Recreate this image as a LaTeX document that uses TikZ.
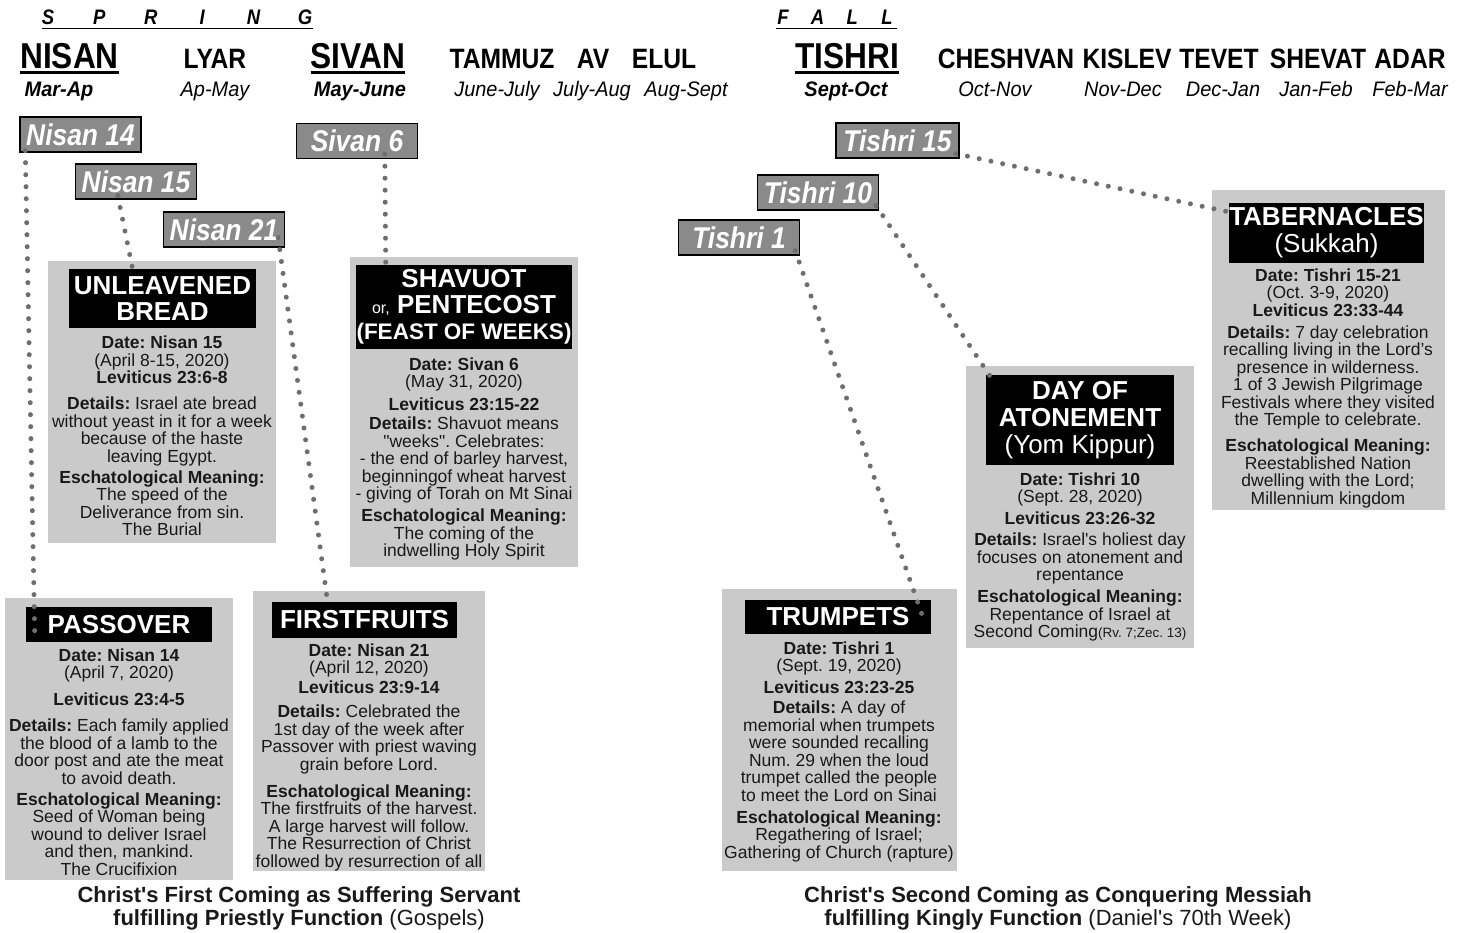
\documentclass[tikz,border=0pt]{standalone}
\usepackage{fontspec}
\setmainfont{Liberation Sans}
\newfontfamily\narrowf[FakeStretch=0.88]{Liberation Sans}
\newfontfamily\subf[FakeStretch=0.95]{Liberation Sans}
\usetikzlibrary{calc}
\definecolor{cardgray}{RGB}{202,202,202}
\definecolor{taggray}{RGB}{138,138,138}
\definecolor{dotgray}{RGB}{110,110,110}
\definecolor{inkc}{RGB}{25,25,25}
\newcommand{\sq}{\textquotesingle}
\frenchspacing
\begin{document}
\frenchspacing
\begin{tikzpicture}[x=1pt,y=-1pt,
 card/.style={fill=cardgray, draw=none, inner sep=0, anchor=north west},
 ttl/.style={fill=black, text=white, inner sep=0, align=center, font=\fontsize{26}{26}\selectfont\bfseries},
 body/.style={inner sep=0, align=center, anchor=north, text=inkc, font=\fontsize{17.5}{17.5}\selectfont},
 datetag/.style={fill=taggray, draw=black, line width=1.4pt, inner sep=0, minimum width=121pt, minimum height=35pt, text=white, font=\narrowf\fontsize{30}{30}\selectfont\bfseries\itshape},
 bigmonth/.style={inner sep=0, anchor=base, font=\narrowf\fontsize{36}{36}\selectfont\bfseries},
 month/.style={inner sep=0, anchor=base, font=\narrowf\fontsize{28}{28}\selectfont\bfseries},
 monthspan/.style={inner sep=0, anchor=base, font=\subf\fontsize{21}{21}\selectfont\itshape},
 season/.style={inner sep=0, anchor=base, font=\narrowf\fontsize{21}{21}\selectfont\bfseries\itshape},
 uline/.style={line width=2.4pt},
 dotline/.style={draw=dotgray, line width=5pt, line cap=round, dash pattern=on 0pt off 12pt},
 capt/.style={inner sep=0, anchor=north, align=center, text=inkc, font=\fontsize{22}{23}\selectfont}
]
\useasboundingbox (0,0) rectangle (1466,932);
\fill[white] (0,0) rectangle (1466,932);

% ---- seasons ----
\node[season] (spring) at (176.5,24.5) {\makebox[51.4pt]{S}\makebox[51.4pt]{P}\makebox[51.4pt]{R}\makebox[51.4pt]{I}\makebox[51.4pt]{N}\makebox[51.4pt]{G}};
\coordinate (sprA) at (42,28.5);
\coordinate (sprB) at (313,28.5);
\draw[line width=1.6pt] (sprA) -- (sprB);
\node[season] (fall) at (835,24.5) {\makebox[34.7pt]{F}\makebox[34.7pt]{A}\makebox[34.7pt]{L}\makebox[34.7pt]{L}};
\coordinate (fallA) at (776,28.5);
\coordinate (fallB) at (897,28.5);
\draw[line width=1.6pt] (fallA) -- (fallB);

% ---- months ----
\node[bigmonth] (nisan) at (69.5,68) {NISAN};
\node[month] (lyar) at (215,68) {LYAR};
\node[bigmonth] (sivan) at (358,68) {SIVAN};
\node[month] (tammuz) at (502,68) {TAMMUZ};
\node[month] (av) at (593,68) {AV};
\node[month] (elul) at (664,68) {ELUL};
\node[bigmonth] (tishri) at (847,68) {TISHRI};
\node[month] (cheshvan) at (1006,68) {CHESHVAN};
\node[month] (kislev) at (1127,68) {KISLEV};
\node[month] (tevet) at (1219,68) {TEVET};
\node[month] (shevat) at (1318,68) {SHEVAT};
\node[month] (adar) at (1410,68) {ADAR};
\draw[uline] ($(nisan.base west)+(0,-4.5pt)$) -- ($(nisan.base east)+(0,-4.5pt)$);
\draw[uline] ($(sivan.base west)+(0,-4.5pt)$) -- ($(sivan.base east)+(0,-4.5pt)$);
\draw[uline] ($(tishri.base west)+(0,-4.5pt)$) -- ($(tishri.base east)+(0,-4.5pt)$);

\node[monthspan] (s1) at (59,96) {\bfseries Mar-Ap};
\node[monthspan] (s2) at (215,96) {Ap-May};
\node[monthspan] (s3) at (360,96) {\bfseries May-June};
\node[monthspan] (s4) at (497,96) {June-July};
\node[monthspan] (s5) at (592,96) {July-Aug};
\node[monthspan] (s6) at (686,96) {Aug-Sept};
\node[monthspan] (s7) at (846,96) {\bfseries Sept-Oct};
\node[monthspan] (s8) at (995,96) {Oct-Nov};
\node[monthspan] (s9) at (1123,96) {Nov-Dec};
\node[monthspan] (s10) at (1223,96) {Dec-Jan};
\node[monthspan] (s11) at (1316,96) {Jan-Feb};
\node[monthspan] (s12) at (1410,96) {Feb-Mar};

% ---- date tags ----
\node[datetag] (t14) at (80.5,134.5) {Nisan 14};
\node[datetag] (t15) at (136,181.5) {Nisan 15};
\node[datetag] (t21) at (224,229.5) {Nisan 21};
\node[datetag] (ts6) at (357,141) {Sivan 6};
\node[datetag, minimum width=123pt] (tt15) at (897.5,140.5) {Tishri 15};
\node[datetag] (tt10) at (818,192.5) {Tishri 10};
\node[datetag] (tt1) at (739,237.5) {Tishri 1};

% ---- Unleavened Bread ----
\node[card, minimum width=228pt, minimum height=282pt] (ubox) at (48,261) {};
\node[ttl, minimum width=187pt, minimum height=59pt] (uttl) at (162.5,298.5) {UNLEAVENED\\BREAD};
\node[body] (ubody) at (162,336) {\textbf{Date: Nisan 15}\\(April 8-15, 2020)\\\textbf{Leviticus 23:6-8}\\[8.5pt]
\textbf{Details:} Israel ate bread\\without yeast in it for a week\\because of the haste\\leaving Egypt.\\[3.5pt]
\textbf{Eschatological Meaning:}\\The speed of the\\Deliverance from sin.\\The Burial};

% ---- Shavuot ----
\node[card, minimum width=228pt, minimum height=310pt] (sbox) at (350,257) {};
\node[ttl, minimum width=216pt, minimum height=84pt] (sttl) at (464,307) {SHAVUOT\\{\fontsize{16}{16}\selectfont\mdseries or,} PENTECOST\\{\fontsize{22.5}{26}\selectfont (FEAST OF WEEKS)}};
\node[body] (sbody) at (464,357.5) {\textbf{Date: Sivan 6}\\(May 31, 2020)\\[5.5pt]\textbf{Leviticus 23:15-22}\\[1.5pt]
\textbf{Details:} Shavuot means\\\textquotedbl weeks\textquotedbl. Celebrates:\\- the end of barley harvest,\\beginningof wheat harvest\\- giving of Torah on Mt Sinai\\[4.5pt]
\textbf{Eschatological Meaning:}\\The coming of the\\indwelling Holy Spirit};

% ---- Passover ----
\node[card, minimum width=228pt, minimum height=282pt] (pbox) at (5,598) {};
\node[ttl, minimum width=186pt, minimum height=35pt] (pttl) at (119,624.5) {PASSOVER};
\node[body] (pbody) at (119,648.5) {\textbf{Date: Nisan 14}\\(April 7, 2020)\\[9.5pt]\textbf{Leviticus 23:4-5}\\[8.5pt]
\textbf{Details:} Each family applied\\the blood of a lamb to the\\door post and ate the meat\\to avoid death.\\[3.5pt]
\textbf{Eschatological Meaning:}\\Seed of Woman being\\wound to deliver Israel\\and then, mankind.\\The Crucifixion};

% ---- Firstfruits ----
\node[card, minimum width=232pt, minimum height=280pt] (fbox) at (253,591) {};
\node[ttl, minimum width=185pt, minimum height=36pt] (fttl) at (364.5,620) {FIRSTFRUITS};
\node[body] (fbody) at (369,643.5) {\textbf{Date: Nisan 21}\\(April 12, 2020)\\[2.5pt]\textbf{Leviticus 23:9-14}\\[6.5pt]
\textbf{Details:} Celebrated the\\1st day of the week after\\Passover with priest waving\\grain before Lord.\\[9.5pt]
\textbf{Eschatological Meaning:}\\The firstfruits of the harvest.\\A large harvest will follow.\\The Resurrection of Christ\\followed by resurrection of all};

% ---- Trumpets ----
\node[card, minimum width=235pt, minimum height=282pt] (trbox) at (722,589) {};
\node[ttl, minimum width=186pt, minimum height=34pt] (trttl) at (838,617) {TRUMPETS};
\node[body] (trbody) at (839,641.5) {\textbf{Date: Tishri 1}\\(Sept. 19, 2020)\\[4.5pt]\textbf{Leviticus 23:23-25}\\[2.5pt]
\textbf{Details:} A day of\\memorial when trumpets\\were sounded recalling\\Num. 29 when the loud\\trumpet called the people\\to meet the Lord on Sinai\\[4.5pt]
\textbf{Eschatological Meaning:}\\Regathering of Israel;\\Gathering of Church (rapture)};

% ---- Day of Atonement ----
\node[card, minimum width=228pt, minimum height=282pt] (abox) at (966,366) {};
\node[ttl, minimum width=188pt, minimum height=90pt, font=\fontsize{26}{27}\selectfont\bfseries] (attl) at (1080,420) {DAY OF\\ATONEMENT\\{\mdseries (Yom Kippur)}};
\node[body] (abody) at (1080,472.5) {\textbf{Date: Tishri 10}\\(Sept. 28, 2020)\\[4.5pt]\textbf{Leviticus 23:26-32}\\[3.5pt]
\textbf{Details:} Israel\sq s holiest day\\focuses on atonement and\\repentance\\[4.5pt]
\textbf{Eschatological Meaning:}\\Repentance of Israel at\\Second Coming{\fontsize{13.5}{17.5}\selectfont(Rv. 7;Zec. 13)}};

% ---- Tabernacles ----
\node[card, minimum width=233pt, minimum height=320pt] (bbox) at (1212,190) {};
\node[ttl, minimum width=195pt, minimum height=60pt, font=\fontsize{26}{27}\selectfont\bfseries] (bttl) at (1326.5,233) {TABERNACLES\\{\mdseries (Sukkah)}};
\node[body] (bbody) at (1328,268.5) {\textbf{Date: Tishri 15-21}\\(Oct. 3-9, 2020)\\\textbf{Leviticus 23:33-44}\\[4.5pt]
\textbf{Details:} 7 day celebration\\recalling living in the Lord’s\\presence in wilderness.\\1 of 3 Jewish Pilgrimage\\Festivals where they visited\\the Temple to celebrate.\\[8.5pt]
\textbf{Eschatological Meaning:}\\Reestablished Nation\\dwelling with the Lord;\\Millennium kingdom};

% ---- captions ----
\node[capt] (cap1) at (299,886) {\textbf{Christ\sq s First Coming as Suffering Servant}\\\textbf{fulfilling Priestly Function} (Gospels)};
\node[capt] (cap2) at (1058,886) {\textbf{Christ\sq s Second Coming as Conquering Messiah}\\\textbf{fulfilling Kingly Function} (Daniel\sq s 70th Week)};

% ---- dotted connectors ----
\coordinate (c14a) at ($(t14.south west)+(6pt,2pt)$);
\coordinate (c14b) at ($(pttl.south west)+(9pt,6pt)$);
\coordinate (c15a) at ($(t15.south west)+(43pt,4pt)$);
\coordinate (c15b) at ($(uttl.north west)+(64pt,-1pt)$);
\coordinate (c21a) at ($(t21.south east)+(-7pt,10pt)$);
\coordinate (c21b) at ($(fttl.north west)+(56pt,-2pt)$);
\coordinate (cs6a) at ($(ts6.south west)+(89pt,5pt)$);
\coordinate (cs6b) at ($(sttl.north west)+(30pt,-8pt)$);
\coordinate (ct15a) at ($(tt15.south east)+(-4pt,5pt)$);
\coordinate (ct15b) at ($(bttl.north west)+(4pt,-10pt)$);
\coordinate (ct10a) at ($(tt10.south east)+(-3pt,5pt)$);
\coordinate (ct10b) at ($(attl.north west)+(6pt,-4pt)$);
\coordinate (ct1a) at ($(tt1.south east)+(-5pt,5pt)$);
\coordinate (ct1b) at ($(trttl.north east)+(-6pt,-24pt)$);
\draw[dotline] (c14a) -- (c14b);
\draw[dotline] (c15a) -- (c15b);
\draw[dotline] (c21a) -- (c21b);
\draw[dotline] (cs6a) -- (cs6b);
\draw[dotline] (ct15a) -- (ct15b);
\draw[dotline] (ct10a) -- (ct10b);
\draw[dotline] (ct1a) -- (ct1b);
\end{tikzpicture}
\end{document}
